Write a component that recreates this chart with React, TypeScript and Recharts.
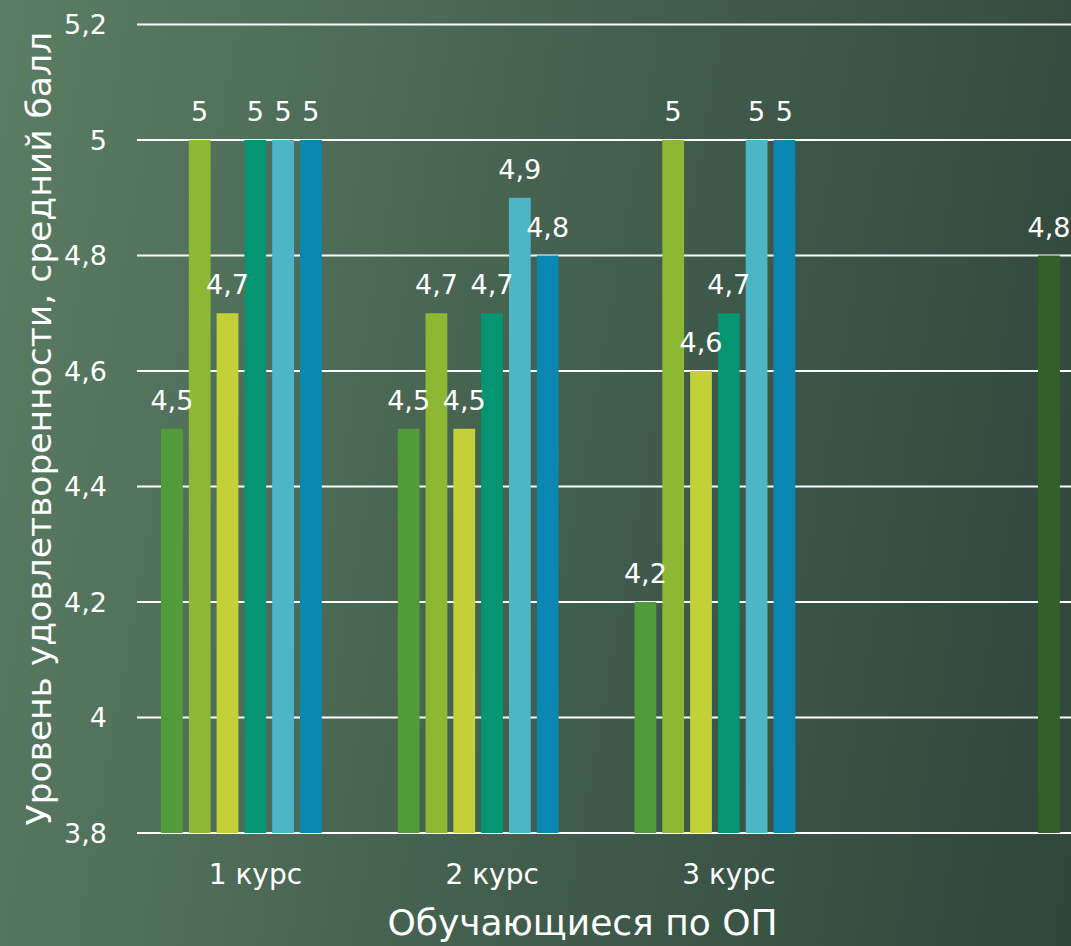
import React from 'react';
import { BarChart, Bar, XAxis, YAxis, CartesianGrid, LabelList, Label } from 'recharts';

const categories = ['1 курс', '2 курс', '3 курс', ''];
const series1 = [4.5, 4.5, 4.2, null];
const series2 = [5, 4.7, 5, null];
const series3 = [4.7, 4.5, 4.6, null];
const series4 = [5, 4.7, 4.7, null];
const series5 = [5, 4.9, 5, null];
const series6 = [5, 4.8, 5, null];
const series7 = [null, null, null, 4.8];
const yTicks = [3.8, 4, 4.2, 4.4, 4.6, 4.8, 5, 5.2];
const seriesKeys = ['s1', 's2', 's3', 's4', 's5', 's6', 's7'];
const seriesColors = ['#509c3a', '#8cb834', '#c3d038', '#069572', '#4db6c6', '#0a87b3', '#33602a'];
const yTitle = 'Уровень удовлетворенности, средний балл';
const xTitle = 'Обучающиеся по ОП';

const allSeries = [series1, series2, series3, series4, series5, series6, series7];
const data = categories.map((name, i) => {
  const row: Record<string, any> = { name };
  seriesKeys.forEach((k, j) => {
    row[k] = allSeries[j][i];
  });
  return row;
});

const fmt = (v: any) => (v === null || v === undefined ? '' : String(v).replace('.', ','));

const FONT = '"DejaVu Sans", sans-serif';

export default function App() {
  return (
    <div
      style={{
        position: 'absolute',
        left: 0,
        top: 0,
        width: 1071,
        height: 946,
        overflow: 'hidden',
        background: 'linear-gradient(100deg, #5b7d63 0%, #4c6a56 33%, #3f5a4a 60%, #2f473b 100%)',
        fontFamily: FONT,
      }}
    >
      <BarChart
        width={1084}
        height={946}
        data={data}
        margin={{ top: 24.5, right: 0, left: 0, bottom: 0 }}
        barGap={6}
        barCategoryGap={24}
        style={{ fontFamily: FONT }}
      >
        <CartesianGrid vertical={false} stroke="#ffffff" strokeWidth={2} />
        <XAxis
          dataKey="name"
          height={113}
          axisLine={false}
          tickLine={false}
          tickSize={0}
          tickMargin={31}
          tick={{ fill: '#ffffff', fontSize: 28, fontFamily: FONT }}
          interval={0}
        >
          <Label value={xTitle} position="insideBottom" offset={11} dx={-28} fill="#ffffff" fontSize={36} fontFamily={FONT} />
        </XAxis>
        <YAxis
          width={137}
          domain={[3.8, 5.2]}
          ticks={yTicks}
          axisLine={false}
          tickLine={false}
          tickSize={0}
          tickMargin={30}
          tickFormatter={fmt}
          tick={{ fill: '#ffffff', fontSize: 27, fontFamily: FONT }}
          allowDataOverflow
        >
          <Label value={yTitle} angle={-90} position="center" dx={-30} fill="#ffffff" fontSize={34.5} fontFamily={FONT} />
        </YAxis>
        {seriesKeys.map((k, j) => (
          <Bar key={k} dataKey={k} fill={seriesColors[j]} barSize={21.8} isAnimationActive={false}>
            <LabelList dataKey={k} position="top" offset={19} formatter={fmt} fill="#ffffff" fontSize={27} fontFamily={FONT} />
          </Bar>
        ))}
      </BarChart>
    </div>
  );
}
